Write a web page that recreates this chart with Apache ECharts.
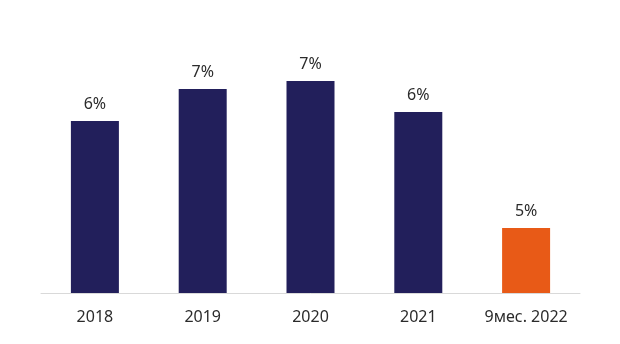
<!DOCTYPE html>
<html>
<head>
<meta charset="utf-8">
<script src="https://cdn.jsdelivr.net/npm/echarts@6/dist/echarts.min.js"></script>
<style>
html,body{margin:0;padding:0;background:#fff;}
#chart{width:620px;height:344px;}
</style>
</head>
<body>
<div id="chart"></div>
<script>
var categories = ['2018', '2019', '2020', '2021', '9мес. 2022'];
var values = [6.22, 6.54, 6.62, 6.31, 5.15];
var barColors = ['#221f5b', '#221f5b', '#221f5b', '#221f5b', '#e85a17'];

var chart = echarts.init(document.getElementById('chart'), null, {renderer: 'canvas'});
chart.setOption({
  animation: false,
  backgroundColor: '#ffffff',
  grid: {left: 41, right: 40, top: 43, bottom: 51, containLabel: false},
  xAxis: {
    type: 'category',
    data: categories,
    axisLine: {show: true, lineStyle: {color: '#d9d9d9', width: 1}},
    axisTick: {show: false},
    axisLabel: {interval: 0, hideOverlap: false, color: '#2b2b2b', fontSize: 16, fontFamily: 'Noto Sans', margin: 16}
  },
  yAxis: {
    type: 'value',
    min: 4.5,
    max: 7,
    show: false,
    splitLine: {show: false}
  },
  series: [{
    type: 'bar',
    barWidth: 48,
    data: values.map(function (v, i) {
      return {value: v, itemStyle: {color: barColors[i]}};
    }),
    label: {
      show: true,
      position: 'top',
      distance: 9,
      color: '#2b2b2b',
      fontSize: 16,
      fontFamily: 'Noto Sans',
      formatter: function (p) { return Math.round(p.value) + '%'; }
    }
  }]
});
</script>
</body>
</html>
